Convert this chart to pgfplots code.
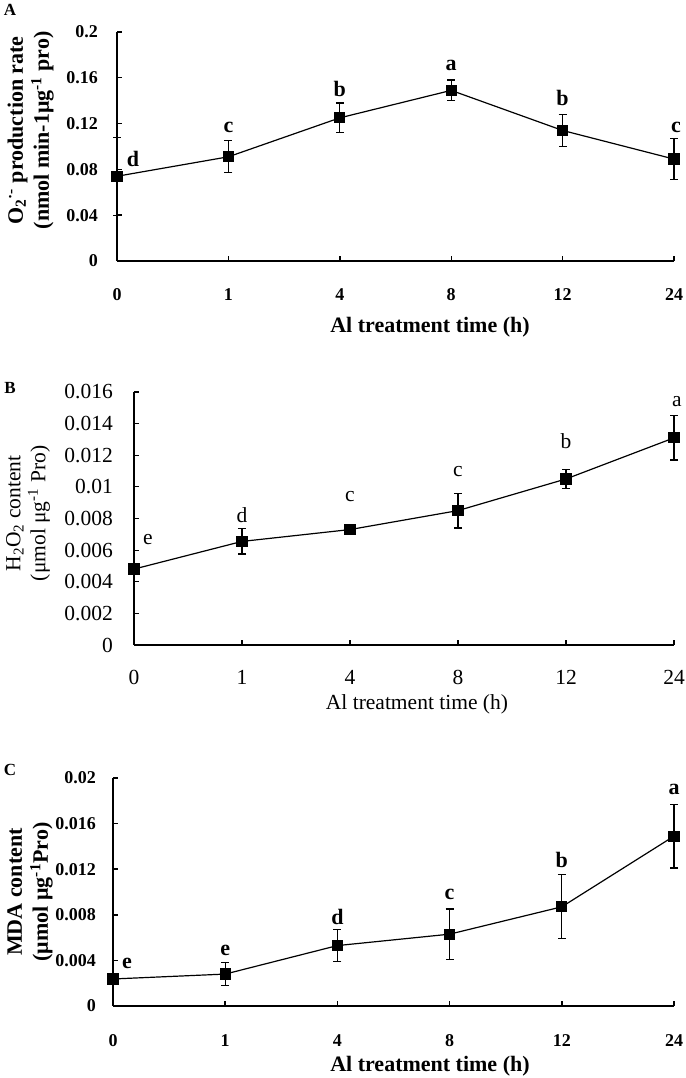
\documentclass[border=0pt]{standalone}
\usepackage{fontspec}
\setmainfont{Liberation Serif}
\usepackage{pgfplots}
\pgfplotsset{compat=1.18}
\newcommand{\fbt}{\fontsize{18}{21}\selectfont\bfseries}
\newcommand{\fbl}{\fontsize{22}{26}\selectfont\bfseries}
\newcommand{\frt}{\fontsize{21.5}{24}\selectfont}
\newcommand{\frl}{\fontsize{21.5}{25}\selectfont}
\pgfplotsset{
  common/.style={
    scale only axis, clip=false,
    axis lines=left, axis line style={-},
    xmin=0, xmax=5,
    xtick={0,1,2,3,4,5}, xticklabels={0,1,4,8,12,24},
    scaled y ticks=false,
    tick align=inside, major tick length=5pt,
    every tick label/.append style={inner sep=0pt},
    ylabel style={align=center, anchor=center},
    xlabel style={anchor=center},
  },
  dataline/.style={black, line width=1.2pt, mark=square*, mark size=5pt, mark options={solid, fill=black},
    error bars/.cd, y dir=both, y explicit,
    error bar style={line width=1.2pt, black},
    error mark options={rotate=90, mark size=4pt, line width=1.2pt, black}},
}
\begin{document}
\begin{tikzpicture}
\path[use as bounding box] (0pt,0pt) rectangle (685pt,1078pt);

% ---------- Panel A ----------
\begin{axis}[common, at={(117pt,817pt)}, anchor=south west, width=557pt, height=229pt,
  ymin=0, ymax=0.2, ytick={0,0.04,0.08,0.12,0.16,0.2}, yticklabels={0,0.04,0.08,0.12,0.16,0.2},
  axis line style={line width=1.4pt}, tick style={line width=1.4pt, black},
  tick label style={font=\fbt},
  xticklabel style={yshift=-27pt}, yticklabel style={xshift=-19pt},
  xlabel={Al treatment time (h)},
  xlabel style={font=\fbl, at={(axis description cs:0.562,-0.29)}},
  ylabel={O\textsubscript{2}\textsuperscript{·-} production rate\\(nmol min-1μg\textsuperscript{-1} pro)},
  ylabel style={font=\fbl, at={(axis description cs:-0.155,0.57)}},
]
\addplot+[dataline] coordinates {
  (0,0.074) +- (0,0.034)
  (1,0.091) +- (0,0.014)
  (2,0.125) +- (0,0.013)
  (3,0.149) +- (0,0.009)
  (4,0.114) +- (0,0.014)
  (5,0.089) +- (0,0.018)
};
\node[font=\fbl, xshift=16pt] at (axis cs:0,0.0895) {d};
\node[font=\fbl] at (axis cs:1,0.117) {c};
\node[font=\fbl] at (axis cs:2,0.150) {b};
\node[font=\fbl] at (axis cs:3,0.171) {a};
\node[font=\fbl] at (axis cs:4,0.142) {b};
\node[font=\fbl, xshift=2pt] at (axis cs:5,0.117) {c};
\end{axis}

% ---------- Panel B ----------
\begin{axis}[common, at={(134pt,433pt)}, anchor=south west, width=540pt, height=253pt,
  ymin=0, ymax=0.016, ytick={0,0.002,0.004,0.006,0.008,0.01,0.012,0.014,0.016},
  yticklabels={0,0.002,0.004,0.006,0.008,0.01,0.012,0.014,0.016},
  axis line style={line width=1.2pt}, tick style={line width=1.2pt, black},
  tick label style={font=\frt},
  xticklabel style={yshift=-25pt}, yticklabel style={xshift=-21pt},
  xlabel={Al treatment time (h)},
  xlabel style={font=\frl, at={(axis description cs:0.524,-0.235)}},
  ylabel={H\textsubscript{2}O\textsubscript{2} content\\(μmol μg\textsuperscript{-1} Pro)},
  ylabel style={font=\frl, at={(axis description cs:-0.196,0.52)}},
]
\addplot+[dataline] coordinates {
  (0,0.0048) +- (0,0.0003)
  (1,0.00655) +- (0,0.0008)
  (2,0.0073) +- (0,0.0003)
  (3,0.0085) +- (0,0.0011)
  (4,0.0105) +- (0,0.0006)
  (5,0.0131) +- (0,0.0014)
};
\node[font=\frl, xshift=14pt] at (axis cs:0,0.0067) {e};
\node[font=\frl] at (axis cs:1,0.0082) {d};
\node[font=\frl] at (axis cs:2,0.0094) {c};
\node[font=\frl] at (axis cs:3,0.0110) {c};
\node[font=\frl] at (axis cs:4,0.0129) {b};
\node[font=\frl, xshift=3pt] at (axis cs:5,0.0154) {a};
\end{axis}

% ---------- Panel C ----------
\begin{axis}[common, at={(113pt,72pt)}, anchor=south west, width=561pt, height=228pt,
  ymin=0, ymax=0.02, ytick={0,0.004,0.008,0.012,0.016,0.02},
  yticklabels={0,0.004,0.008,0.012,0.016,0.02},
  axis line style={line width=1.8pt}, tick style={line width=1.6pt, black},
  tick label style={font=\fbt},
  xticklabel style={yshift=-28pt}, yticklabel style={xshift=-17pt},
  xlabel={Al treatment time (h)},
  xlabel style={font=\fbl, at={(axis description cs:0.565,-0.265)}},
  ylabel={MDA content\\(μmol μg\textsuperscript{-1}Pro)},
  ylabel style={font=\fbl, at={(axis description cs:-0.148,0.5)}},
]
\addplot+[dataline] coordinates {
  (0,0.00237) +- (0,0.0002)
  (1,0.0028) +- (0,0.001)
  (2,0.0053) +- (0,0.0014)
  (3,0.0063) +- (0,0.0022)
  (4,0.0087) +- (0,0.0028)
  (5,0.0149) +- (0,0.0028)
};
\node[font=\fbl, xshift=14pt] at (axis cs:0,0.00375) {e};
\node[font=\fbl] at (axis cs:1,0.0049) {e};
\node[font=\fbl] at (axis cs:2,0.00785) {d};
\node[font=\fbl] at (axis cs:3,0.00975) {c};
\node[font=\fbl] at (axis cs:4,0.0128) {b};
\node[font=\fbl] at (axis cs:5,0.0190) {a};
\end{axis}

\node[font=\fontsize{17}{20}\selectfont\bfseries] at (10pt,1068pt) {A};
\node[font=\fontsize{17}{20}\selectfont\bfseries] at (10pt,690pt) {B};
\node[font=\fontsize{17}{20}\selectfont\bfseries] at (10pt,308pt) {C};
\end{tikzpicture}
\end{document}
